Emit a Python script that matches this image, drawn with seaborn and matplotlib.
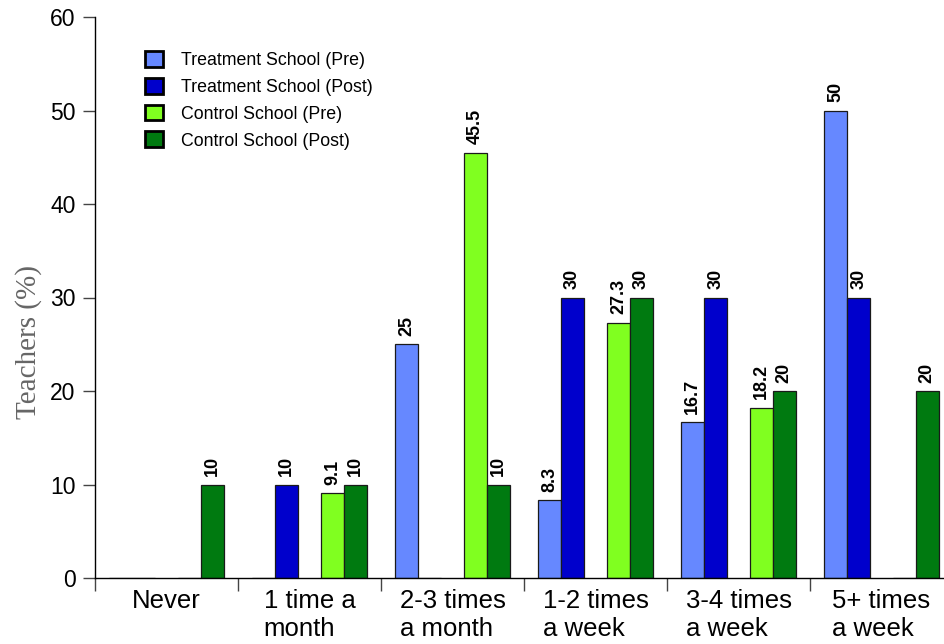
import numpy as np
import pandas as pd
import matplotlib
matplotlib.use("Agg")
import matplotlib.pyplot as plt
from matplotlib.patches import Patch
import seaborn as sns

# -------------------- DATA --------------------
categories = ["Never", "1 time a\nmonth", "2-3 times\na month",
              "1-2 times\na week", "3-4 times\na week", "5+ times\na week"]
series = ["Treatment School (Pre)", "Treatment School (Post)",
          "Control School (Pre)", "Control School (Post)"]
treat_pre = [0, 0, 25, 8.3, 16.7, 50]
treat_post = [0, 10, 0, 30, 30, 30]
control_pre = [0, 9.1, 45.5, 27.3, 18.2, 0]
control_post = [10, 10, 10, 30, 20, 20]
colors = ["#6688FF", "#0000CC", "#80FF20", "#007A10"]

gap = "_gap"  # empty slot between treatment and control bars
values = {series[0]: treat_pre, series[1]: treat_post, gap: [0] * 6,
          series[2]: control_pre, series[3]: control_post}
hue_order = [series[0], series[1], gap, series[2], series[3]]

rows = []
for s in hue_order:
    for c, v in zip(categories, values[s]):
        rows.append({"category": c, "series": s, "value": v})
df = pd.DataFrame(rows)

palette = dict(zip(series, colors))
palette[gap] = "white"

# -------------------- PLOT --------------------
sns.set_style("ticks")
plt.rcParams["font.family"] = ["Liberation Sans", "DejaVu Sans"]
plt.rcParams["text.color"] = "black"
plt.rcParams["xtick.labelcolor"] = "black"
plt.rcParams["ytick.labelcolor"] = "black"

fig = plt.figure(figsize=(9.45, 6.44), dpi=100)
ax = fig.add_axes([95 / 945, 66 / 644, 850 / 945, 561 / 644])

sns.barplot(data=df, x="category", y="value", hue="series", order=categories,
            hue_order=hue_order, palette=palette, saturation=1, width=0.8,
            errorbar=None, edgecolor="#1a1a1a", linewidth=0.9, legend=False, ax=ax)

for s, cont in zip(hue_order, ax.containers):
    if s == gap:
        for p in cont:
            p.set_visible(False)
        continue
    labels = [f"{v:g}" if v > 0 else "" for v in cont.datavalues]
    ax.bar_label(cont, labels=labels, rotation=90, padding=6,
                 fontsize=13, fontweight="bold", color="black")

ax.set_xlim(-0.5, 5.444)
ax.set_ylim(0, 60)
ax.set_yticks(range(0, 61, 10))
ax.set_xticks(range(len(categories)))
ax.set_xticklabels(categories)
ax.set_xticks(np.arange(-0.5, 5.0, 1), minor=True)
for t in ax.get_xticklabels():
    t.set_multialignment("left")
ax.tick_params(axis="x", which="major", length=0, pad=8, labelsize=18.5,
               labelcolor="black")
ax.tick_params(axis="x", which="minor", length=9, width=1, color="#444444")
ax.tick_params(axis="y", length=9, width=1, pad=5, labelsize=16.5,
               color="#444444", labelcolor="black")

ax.set_xlabel("")
ax.set_ylabel("Teachers (%)", family=["Liberation Serif", "DejaVu Serif"],
              fontsize=21, color="#666666")
ax.yaxis.set_label_coords(-0.062, 0.42)

sns.despine(ax=ax)
for side in ["left", "bottom"]:
    ax.spines[side].set_color("black")
    ax.spines[side].set_linewidth(1)

handles = [Patch(facecolor=c, edgecolor="black", linewidth=2) for c in colors]
ax.legend(handles, series, loc="upper left", bbox_to_anchor=(0.059, 0.94),
          frameon=False, fontsize=12.8, handlelength=1.0, handleheight=1.0,
          labelspacing=0.5, handletextpad=1.0, borderpad=0, borderaxespad=0,
          labelcolor="black")

fig.savefig("out.png", dpi=100)
